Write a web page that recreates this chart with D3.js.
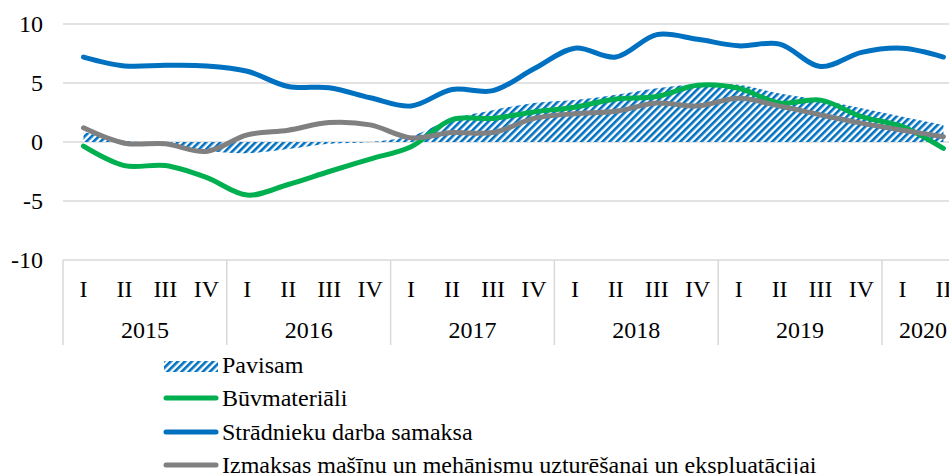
<!DOCTYPE html>
<html><head><meta charset="utf-8">
<script src="https://cdn.jsdelivr.net/npm/d3@7"></script>
<style>
html,body{margin:0;padding:0;background:#fff;overflow:hidden;}
svg{display:block;font-family:"Liberation Serif","Times New Roman",serif;}
</style></head>
<body>
<svg id="c" width="949" height="474"></svg>
<script>
const quarters = ["I","II","III","IV","I","II","III","IV","I","II","III","IV","I","II","III","IV","I","II","III","IV","I","II"];
const years = ["2015","2016","2017","2018","2019","2020"];
const yearQuarterCounts = [4,4,4,4,4,2];
const yTicks = [-10,-5,0,5,10];
const pavisam = [0.85, 0.1, -0.15, -0.75, -0.95, -0.6, -0.15, 0.0, 0.5, 1.95, 2.7, 3.3, 3.55, 4.0, 4.55, 4.9, 4.85, 4.1, 3.55, 2.85, 2.15, 1.45];
const buvmateriali = [-0.35, -2.0, -2.0, -3.0, -4.5, -3.6, -2.5, -1.45, -0.4, 1.9, 2.0, 2.55, 2.95, 3.65, 3.85, 4.8, 4.55, 3.3, 3.55, 2.15, 1.3, -0.55];
const stradnieku = [7.2, 6.45, 6.5, 6.45, 6.0, 4.7, 4.6, 3.75, 3.05, 4.45, 4.35, 6.2, 7.95, 7.2, 9.1, 8.7, 8.15, 8.3, 6.4, 7.6, 7.95, 7.2];
const izmaksas = [1.2, -0.1, -0.15, -0.8, 0.6, 1.0, 1.65, 1.45, 0.35, 0.8, 0.8, 2.0, 2.4, 2.6, 3.3, 3.05, 3.7, 3.05, 2.3, 1.6, 1.0, 0.45];
const seriesNames = ["Pavisam","Būvmateriāli","Strādnieku darba samaksa","Izmaksas mašīnu un mehānismu uzturēšanai un ekspluatācijai"];

const FS = "24px";
const svg = d3.select("#c");
const left = 63, bandW = 40.95;
const idx = quarters.map((q,i)=>i);
const x = d3.scaleBand().domain(idx).range([left, left + bandW*quarters.length]).paddingInner(0).paddingOuter(0);
const y = d3.scaleLinear().domain([-10,10]).range([260,24]);
const cx = i => x(i) + x.bandwidth()/2;

// pattern
const defs = svg.append("defs");
const pat = defs.append("pattern").attr("id","hatch").attr("patternUnits","userSpaceOnUse")
  .attr("width",5).attr("height",5).attr("patternTransform","rotate(45)");
pat.append("rect").attr("width",5).attr("height",5).attr("fill","#fff");
pat.append("rect").attr("width",2.6).attr("height",5).attr("fill","#0070c0");

// gridlines
svg.append("g").selectAll("line").data(yTicks.filter(t=>t!==-10)).join("line")
  .attr("x1",left).attr("x2",949).attr("y1",d=>y(d)).attr("y2",d=>y(d))
  .attr("stroke","#d9d9d9").attr("stroke-width",1.5);

// y labels
const yAxis = d3.axisLeft(y).tickValues(yTicks).tickSize(0).tickPadding(0).tickFormat(d=>String(d));
const ya = svg.append("g").attr("transform","translate(43,0)").call(yAxis);
ya.attr("font-family",null).attr("font-size",null);
ya.select(".domain").remove();
ya.selectAll("text").attr("font-size",FS).attr("fill","#000").attr("dy","0.32em");

// category axis box
svg.append("line").attr("x1",left).attr("x2",949).attr("y1",y(-10)).attr("y2",y(-10)).attr("stroke","#d9d9d9").attr("stroke-width",1.5);
let acc = 0;
const bounds = [0];
yearQuarterCounts.forEach(c=>{acc+=c; bounds.push(acc);});
svg.append("g").selectAll("line").data(bounds).join("line")
  .attr("x1",d=>left+d*bandW).attr("x2",d=>left+d*bandW)
  .attr("y1",y(-10)).attr("y2",345).attr("stroke","#d9d9d9").attr("stroke-width",1.5);
svg.append("g").selectAll("text").data(quarters).join("text")
  .attr("x",(d,i)=>cx(i)).attr("y",297).attr("text-anchor","middle")
  .attr("font-size",FS).attr("fill","#000").text(d=>d);
svg.append("g").selectAll("text").data(years).join("text")
  .attr("x",(d,i)=>left+(bounds[i]+bounds[i+1])/2*bandW).attr("y",338).attr("text-anchor","middle")
  .attr("font-size",FS).attr("fill","#000").text(d=>d);

// area
const curve = d3.curveCatmullRom.alpha(0.5);
svg.append("path").datum(pavisam)
  .attr("d", d3.area().x((d,i)=>cx(i)).y0(y(0)).y1(d=>y(d)).curve(curve))
  .attr("fill","url(#hatch)");

const lineGen = d3.line().x((d,i)=>cx(i)).y(d=>y(d)).curve(curve);
const lines = [[buvmateriali,"#00b050"],[stradnieku,"#0070c0"],[izmaksas,"#808080"]];
lines.forEach(([data,col])=>{
  svg.append("path").datum(data).attr("d",lineGen).attr("fill","none")
    .attr("stroke",col).attr("stroke-width",5).attr("stroke-linecap","round").attr("stroke-linejoin","round");
});

// legend
const lg = svg.append("g");
const rows = [367,398,432,465];
lg.append("rect").attr("x",164).attr("y",361).attr("width",54).attr("height",11).attr("fill","url(#hatch)");
[["#00b050",1],["#0070c0",2],["#808080",3]].forEach(([c,r])=>{
  lg.append("line").attr("x1",166).attr("x2",216).attr("y1",rows[r]).attr("y2",rows[r])
    .attr("stroke",c).attr("stroke-width",5).attr("stroke-linecap","round");
});
const baselines = [373,406,440,473];
lg.selectAll("text").data(seriesNames).join("text")
  .attr("x",222).attr("y",(d,i)=>baselines[i]).attr("font-size",FS).attr("fill","#000").text(d=>d);
</script>
</body></html>
